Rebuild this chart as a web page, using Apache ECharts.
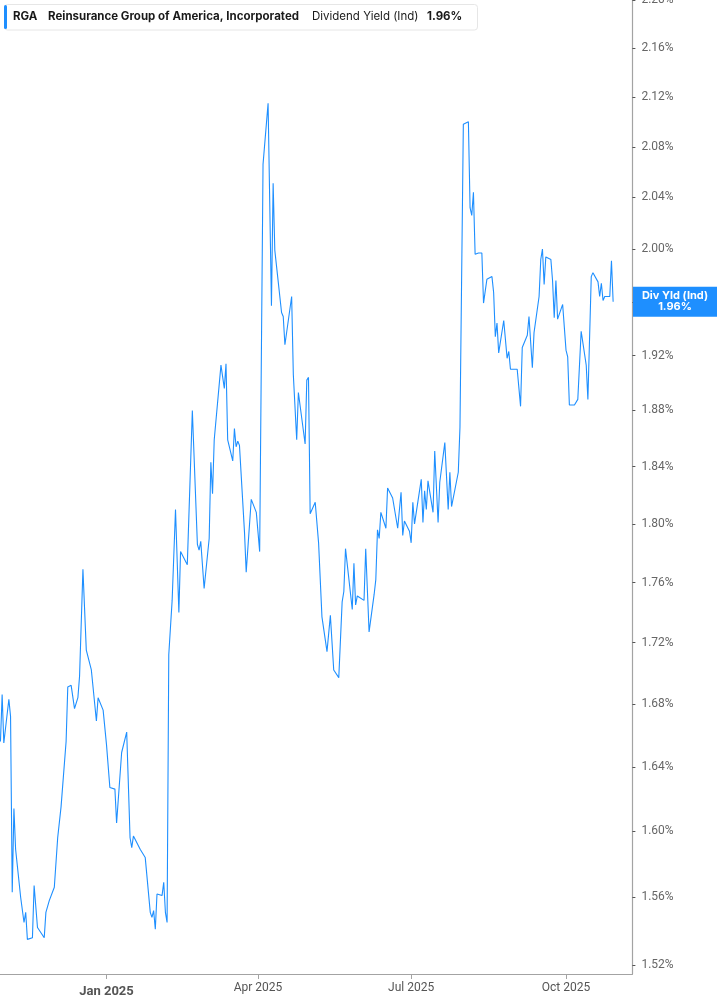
<!DOCTYPE html>
<html>
<head>
<meta charset="utf-8">
<script src="https://cdn.jsdelivr.net/npm/echarts@6.0.0/dist/echarts.min.js"></script>
<style>
html,body{margin:0;padding:0;background:#fff;}
#chart{width:717px;height:1005px;}
</style>
</head>
<body>
<div id="chart"></div>
<script>
const dates = [
'2024-10-30','2024-10-31','2024-11-01','2024-11-04','2024-11-05','2024-11-06','2024-11-07','2024-11-08','2024-11-11','2024-11-13',
'2024-11-14','2024-11-15','2024-11-18','2024-11-19','2024-11-20','2024-11-21','2024-11-25','2024-11-26','2024-11-28','2024-12-01',
'2024-12-03','2024-12-05','2024-12-08','2024-12-09','2024-12-11','2024-12-13','2024-12-15','2024-12-16','2024-12-18','2024-12-20',
'2024-12-23','2024-12-26','2024-12-27','2024-12-30','2025-01-01','2025-01-03','2025-01-06','2025-01-07','2025-01-08','2025-01-10',
'2025-01-13','2025-01-15','2025-01-16','2025-01-17','2025-01-21','2025-01-22','2025-01-24','2025-01-27','2025-01-28','2025-01-29',
'2025-01-30','2025-01-31','2025-02-03','2025-02-04','2025-02-05','2025-02-06','2025-02-07','2025-02-09','2025-02-11','2025-02-13',
'2025-02-14','2025-02-18','2025-02-21','2025-02-24','2025-02-25','2025-02-26','2025-02-28','2025-03-03','2025-03-04','2025-03-05',
'2025-03-06','2025-03-10','2025-03-12','2025-03-13','2025-03-14','2025-03-17','2025-03-18','2025-03-19','2025-03-20','2025-03-21',
'2025-03-24','2025-03-25','2025-03-26','2025-03-28','2025-03-31','2025-04-02','2025-04-04','2025-04-07','2025-04-08','2025-04-09',
'2025-04-10','2025-04-11','2025-04-15','2025-04-16','2025-04-17','2025-04-21','2025-04-22','2025-04-24','2025-04-25','2025-04-29',
'2025-04-30','2025-05-01','2025-05-02','2025-05-05','2025-05-07','2025-05-09','2025-05-12','2025-05-14','2025-05-15','2025-05-16',
'2025-05-19','2025-05-21','2025-05-22','2025-05-23','2025-05-27','2025-05-28','2025-05-29','2025-05-30','2025-06-03','2025-06-04',
'2025-06-06','2025-06-09','2025-06-10','2025-06-11','2025-06-12','2025-06-13','2025-06-16','2025-06-17','2025-06-20','2025-06-23',
'2025-06-25','2025-06-26','2025-06-27','2025-06-30','2025-07-01','2025-07-02','2025-07-03','2025-07-07','2025-07-08','2025-07-09',
'2025-07-10','2025-07-11','2025-07-14','2025-07-15','2025-07-17','2025-07-18','2025-07-21','2025-07-23','2025-07-24','2025-07-25',
'2025-07-29','2025-07-30','2025-08-01','2025-08-04','2025-08-05','2025-08-06','2025-08-07','2025-08-08','2025-08-10','2025-08-12',
'2025-08-13','2025-08-15','2025-08-18','2025-08-19','2025-08-20','2025-08-21','2025-08-22','2025-08-25','2025-08-27','2025-08-28',
'2025-08-29','2025-09-02','2025-09-04','2025-09-05','2025-09-08','2025-09-09','2025-09-11','2025-09-12','2025-09-15','2025-09-16',
'2025-09-17','2025-09-18','2025-09-19','2025-09-22','2025-09-23','2025-09-24','2025-09-25','2025-09-26','2025-09-29','2025-10-01',
'2025-10-02','2025-10-03','2025-10-06','2025-10-07','2025-10-08','2025-10-10','2025-10-13','2025-10-14','2025-10-16','2025-10-17',
'2025-10-20','2025-10-21','2025-10-22','2025-10-23','2025-10-24','2025-10-27','2025-10-28','2025-10-29'
];
const yieldValues = [
1.656,1.686,1.655,1.683,1.672,1.563,1.614,1.589,1.560,1.545,
1.551,1.535,1.536,1.567,1.568,1.542,1.536,1.551,1.558,1.566,
1.596,1.615,1.656,1.691,1.692,1.677,1.684,1.698,1.769,1.715,
1.702,1.669,1.684,1.676,1.654,1.627,1.626,1.605,1.604,1.649,
1.662,1.596,1.590,1.597,1.589,1.590,1.584,1.551,1.548,1.552,
1.541,1.562,1.561,1.569,1.551,1.545,1.712,1.748,1.810,1.740,
1.781,1.772,1.880,1.786,1.782,1.788,1.756,1.790,1.843,1.821,
1.859,1.913,1.896,1.914,1.859,1.844,1.867,1.854,1.858,1.855,
1.794,1.767,1.766,1.817,1.808,1.781,2.066,2.115,2.114,1.957,
2.051,1.999,1.952,1.949,1.928,1.964,1.906,1.859,1.893,1.856,
1.902,1.904,1.807,1.815,1.787,1.737,1.714,1.738,1.737,1.702,
1.697,1.747,1.754,1.783,1.742,1.773,1.745,1.751,1.748,1.783,
1.727,1.752,1.762,1.796,1.790,1.808,1.797,1.825,1.818,1.797,
1.822,1.792,1.802,1.795,1.787,1.815,1.800,1.831,1.801,1.823,
1.810,1.830,1.808,1.851,1.801,1.829,1.857,1.810,1.836,1.812,
1.836,1.868,2.098,2.100,2.032,2.026,2.044,1.996,1.997,1.997,
1.959,1.977,1.979,1.967,1.934,1.944,1.922,1.946,1.918,1.923,
1.910,1.910,1.883,1.926,1.935,1.949,1.911,1.937,1.964,1.992,
2.000,1.973,1.994,1.992,1.976,1.948,1.976,1.947,1.958,1.924,
1.919,1.884,1.884,1.883,1.888,1.938,1.913,1.888,1.979,1.982,
1.975,1.964,1.974,1.961,1.964,1.964,1.991,1.960
];
const xTickDates = ['2025-01-01','2025-04-01','2025-07-01','2025-10-01'];
const xTickLabels = ['Jan 2025','Apr 2025','Jul 2025','Oct 2025'];
const yTickValues = [1.52,1.56,1.60,1.64,1.68,1.72,1.76,1.80,1.84,1.88,1.92,1.96,2.00,2.04,2.08,2.12,2.16,2.20];

const ticker = 'RGA';
const companyName = 'Reinsurance Group of America, Incorporated';
const metricName = 'Dividend Yield (Ind)';
const shortMetric = 'Div Yld (Ind)';
const lastValue = yieldValues[yieldValues.length - 1];

function toTs(s) { const p = s.split('-').map(Number); return Date.UTC(p[0], p[1] - 1, p[2]); }
const DAY = 86400000;
const jan1 = toTs('2025-01-01');
const xMin = jan1 - 63.27 * DAY;
const xMax = jan1 + 312.44 * DAY;
const xTickTs = xTickDates.map(toTs);

const seriesData = dates.map((d, i) => [toTs(d), yieldValues[i]]);
const BLUE = '#1e8fff';

const chart = echarts.init(document.getElementById('chart'), null, { renderer: 'canvas' });
chart.setOption({
  animation: false,
  backgroundColor: '#ffffff',
  grid: { left: 0, right: 84.6, top: 0, bottom: 31, containLabel: false, outerBoundsMode: 'none' },
  xAxis: {
    type: 'value',
    min: xMin,
    max: xMax,
    axisLine: { show: true, lineStyle: { color: '#a3a3a3', width: 1.2 } },
    axisTick: { show: true, customValues: xTickTs, length: 5, lineStyle: { color: '#a3a3a3', width: 1 } },
    axisLabel: {
      customValues: xTickTs,
      margin: 8,
      color: '#555',
      fontFamily: 'Roboto',
      fontSize: 12,
      formatter: function (v) {
        let best = 0, bd = Infinity;
        xTickTs.forEach((t, i) => { const d = Math.abs(t - v); if (d < bd) { bd = d; best = i; } });
        const txt = xTickLabels[best];
        return best === 0 ? '{b|' + txt + '}' : txt;
      },
      rich: { b: { fontWeight: 'bold', fontSize: 13, color: '#555', fontFamily: 'Roboto', padding: [3, 0, 0, 0] } }
    },
    splitLine: { show: false }
  },
  yAxis: {
    type: 'log',
    logBase: 10,
    position: 'right',
    min: 1.51477,
    max: 2.20036,
    axisLine: { show: true, lineStyle: { color: '#a3a3a3', width: 1.2 } },
    axisTick: { show: true, customValues: yTickValues, length: 3, lineStyle: { color: '#555', width: 1 } },
    axisLabel: {
      customValues: yTickValues,
      margin: 9,
      color: '#666',
      fontFamily: 'Roboto',
      fontSize: 12,
      formatter: function (v) { return Number(v).toFixed(2) + '%'; }
    },
    splitLine: { show: false }
  },
  series: [{
    type: 'line',
    data: seriesData,
    showSymbol: false,
    symbol: 'none',
    lineStyle: { color: BLUE, width: 1.1 },
    itemStyle: { color: BLUE },
    clip: true
  }]
});

const yPix = chart.convertToPixel({ yAxisIndex: 0 }, lastValue);
chart.setOption({
  graphic: [
    { type: 'rect', z: 100, shape: { x: 4.5, y: 4.5, width: 473, height: 25.5, r: 3 }, style: { fill: '#fff', stroke: '#e6e6e6', lineWidth: 1 } },
    { type: 'rect', z: 101, shape: { x: 4, y: 5, width: 3, height: 24, r: 1.5 }, style: { fill: BLUE } },
    { type: 'text', z: 101, x: 13, y: 17, style: { text: ticker, fill: '#1a1a1a', font: 'bold 11.5px Inter', verticalAlign: 'middle' } },
    { type: 'text', z: 101, x: 48, y: 17, style: { text: companyName, fill: '#1a1a1a', font: 'bold 11.5px Inter', verticalAlign: 'middle' } },
    { type: 'text', z: 101, x: 312, y: 17, style: { text: metricName, fill: '#1a1a1a', font: '11.5px Inter', verticalAlign: 'middle' } },
    { type: 'text', z: 101, x: 427, y: 17, style: { text: lastValue.toFixed(2) + '%', fill: '#1a1a1a', font: 'bold 11.5px Inter', verticalAlign: 'middle' } },
    { type: 'rect', z: 100, shape: { x: 633, y: yPix - 15, width: 84, height: 30 }, style: { fill: BLUE } },
    { type: 'text', z: 101, x: 675, y: yPix - 6, style: { text: shortMetric, fill: '#fff', font: 'bold 11px Inter', align: 'center', verticalAlign: 'middle' } },
    { type: 'text', z: 101, x: 675, y: yPix + 5, style: { text: lastValue.toFixed(2) + '%', fill: '#fff', font: 'bold 11px Inter', align: 'center', verticalAlign: 'middle' } }
  ]
});
</script>
</body>
</html>
